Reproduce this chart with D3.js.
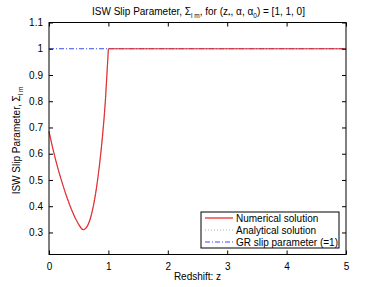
<!DOCTYPE html>
<html>
<head>
<meta charset="utf-8">
<script src="https://cdn.jsdelivr.net/npm/d3@7"></script>
<style>
body { margin: 0; background: #fff; }
text { font-family: "Liberation Sans", Arial, sans-serif; fill: #000; }
</style>
</head>
<body>
<script>
// redshift samples and slip parameter values
var zVals   = [0, 0.05, 0.1, 0.15, 0.2, 0.25, 0.3, 0.35, 0.4, 0.45, 0.5, 0.55, 0.6, 0.65, 0.7, 0.75, 0.8, 0.85, 0.9, 0.95, 1, 2, 3, 4, 5];
var numVals = [0.685, 0.634, 0.587, 0.544, 0.505, 0.469, 0.435, 0.404, 0.376, 0.351, 0.331, 0.314, 0.312, 0.326, 0.356, 0.404, 0.471, 0.557, 0.665, 0.805, 1, 1, 1, 1, 1];
var anaVals = [0.685, 0.634, 0.587, 0.544, 0.505, 0.469, 0.435, 0.404, 0.376, 0.351, 0.331, 0.314, 0.312, 0.326, 0.356, 0.404, 0.471, 0.557, 0.665, 0.805, 1, 1, 1, 1, 1];
var grZ = [0, 5];
var grVals = [1, 1];
var xTicks = [0, 1, 2, 3, 4, 5];
var yTicks = [0.3, 0.4, 0.5, 0.6, 0.7, 0.8, 0.9, 1, 1.1];
var legendNames = ["Numerical solution", "Analytical solution", "GR slip parameter (=1)"];

var width = 382, height = 287;
var margin = {top: 22.5, right: 36, bottom: 32.5, left: 49};

var svg = d3.select("body").append("svg")
    .attr("width", width)
    .attr("height", height);

var x = d3.scaleLinear().domain([0, 5]).range([margin.left, width - margin.right]);
var y = d3.scaleLinear().domain([0.216, 1.1]).range([height - margin.bottom, margin.top]);

var smooth = d3.line()
    .x(function(d) { return x(d[0]); })
    .y(function(d) { return y(d[1]); })
    .curve(d3.curveNatural);
var straight = d3.line()
    .x(function(d) { return x(d[0]); })
    .y(function(d) { return y(d[1]); });

// curved part up to z=1, flat part after it
function drawCurve(vals, stroke, w, dash) {
    var pts = d3.zip(zVals, vals);
    var lo = pts.filter(function(d) { return d[0] <= 1; });
    var hi = pts.filter(function(d) { return d[0] >= 1; });
    [[lo, smooth], [hi, straight]].forEach(function(p) {
        g.append("path")
            .datum(p[0])
            .attr("d", p[1])
            .attr("fill", "none")
            .attr("stroke", stroke)
            .attr("stroke-width", w)
            .attr("stroke-dasharray", dash);
    });
}

var g = svg.append("g");

// GR reference line
g.append("path")
    .datum(d3.zip(grZ, grVals))
    .attr("d", straight)
    .attr("fill", "none")
    .attr("stroke", "#3a4df0")
    .attr("stroke-width", 1)
    .attr("stroke-dasharray", "5,2,1,2");

drawCurve(numVals, "#ee1c1c", 1.2, null);
drawCurve(anaVals, "#999", 0.6, "1,2");

// axes (matlab style: inner ticks, box)
var x0 = x(0), x1 = x(5), y0 = y.range()[0], y1 = y.range()[1];
svg.append("g")
    .attr("transform", "translate(0," + y0 + ")")
    .call(d3.axisBottom(x).tickValues(xTicks).tickSizeInner(-4).tickSizeOuter(0).tickPadding(8).tickFormat(d3.format("d")))
    .call(function(a) { a.select(".domain").remove(); a.selectAll("text").style("font-size", "10px").style("font-family", "Liberation Sans, Arial, sans-serif"); });
svg.append("g")
    .attr("transform", "translate(0," + y1 + ")")
    .call(d3.axisTop(x).tickValues(xTicks).tickSizeInner(-4).tickSizeOuter(0).tickFormat(""))
    .call(function(a) { a.select(".domain").remove(); });
svg.append("g")
    .attr("transform", "translate(" + x0 + ",0)")
    .call(d3.axisLeft(y).tickValues(yTicks).tickSizeInner(-4).tickSizeOuter(0).tickPadding(6).tickFormat(function(d) { return d3.format("")(+d.toFixed(1)); }))
    .call(function(a) { a.select(".domain").remove(); a.selectAll("text").style("font-size", "10px").style("font-family", "Liberation Sans, Arial, sans-serif"); });
svg.append("g")
    .attr("transform", "translate(" + x1 + ",0)")
    .call(d3.axisRight(y).tickValues(yTicks).tickSizeInner(-4).tickSizeOuter(0).tickFormat(""))
    .call(function(a) { a.select(".domain").remove(); });

svg.append("rect")
    .attr("x", x0).attr("y", y1)
    .attr("width", x1 - x0).attr("height", y0 - y1)
    .attr("fill", "none")
    .attr("stroke", "#000")
    .attr("stroke-width", 1);

// title
var title = svg.append("text")
    .attr("x", (x0 + x1) / 2 + 1)
    .attr("y", 15)
    .attr("text-anchor", "middle")
    .style("font-size", "10px");
title.append("tspan").text("ISW Slip Parameter, Σ");
title.append("tspan").attr("dy", 3).style("font-size", "6.5px").text("l m");
title.append("tspan").attr("dy", -3).text(", for (z");
title.append("tspan").attr("dy", 3).style("font-size", "6.5px").text("*");
title.append("tspan").attr("dy", -3).text(", α, α");
title.append("tspan").attr("dy", 3).style("font-size", "6.5px").text("0");
title.append("tspan").attr("dy", -3).text(") = [1, 1, 0]");

// x label
svg.append("text")
    .attr("x", (x0 + x1) / 2)
    .attr("y", 280)
    .attr("text-anchor", "middle")
    .style("font-size", "10px")
    .text("Redshift: z");

// y label
var ylab = svg.append("text")
    .attr("transform", "translate(20," + ((y0 + y1) / 2 + 2) + ") rotate(-90)")
    .attr("text-anchor", "middle")
    .style("font-size", "10px");
ylab.append("tspan").text("ISW Slip Parameter, Σ");
ylab.append("tspan").attr("dy", 3).style("font-size", "6.5px").text("l m");

// legend
var lg = svg.append("g").attr("transform", "translate(201,212)");
lg.append("rect")
    .attr("width", 138).attr("height", 36)
    .attr("fill", "#fff").attr("stroke", "#000").attr("stroke-width", 1);
var styles = [
    {stroke: "#ee1c1c", dash: null, w: 1.2},
    {stroke: "#999", dash: "1,2", w: 0.8},
    {stroke: "#3a4df0", dash: "5,2,1,2", w: 1}
];
legendNames.forEach(function(name, i) {
    var yy = 6 + i * 12;
    lg.append("line")
        .attr("x1", 4).attr("x2", 32).attr("y1", yy).attr("y2", yy)
        .attr("stroke", styles[i].stroke)
        .attr("stroke-width", styles[i].w)
        .attr("stroke-dasharray", styles[i].dash);
    lg.append("text")
        .attr("x", 35).attr("y", yy + 3.5)
        .style("font-size", "10px")
        .text(name);
});
</script>
</body>
</html>
